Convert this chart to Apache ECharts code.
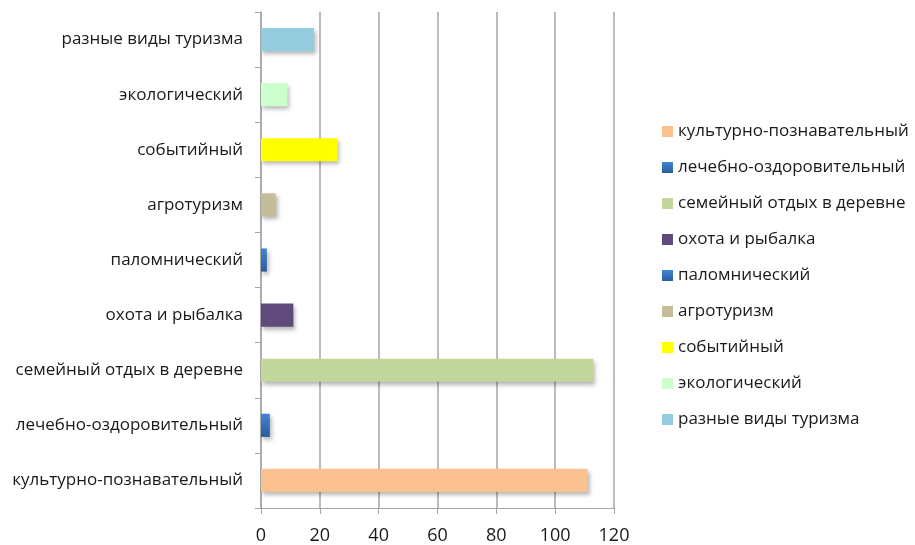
<!DOCTYPE html>
<html>
<head>
<meta charset="utf-8">
<script src="https://cdn.jsdelivr.net/npm/echarts@6/dist/echarts.min.js"></script>
<style>
  html, body { margin: 0; padding: 0; background: #fff; }
</style>
</head>
<body>
<div id="chart" style="width: 915px;height:545px;"></div>
<script>
// категории снизу вверх (как на оси)
var categories = [
  'культурно-познавательный',
  'лечебно-оздоровительный',
  'семейный отдых в деревне',
  'охота и рыбалка',
  'паломнический',
  'агротуризм',
  'событийный',
  'экологический',
  'разные виды туризма'
]
var values = [111, 3, 113, 11, 2, 5, 26, 9, 18]
var xTicks = [0, 20, 40, 60, 80, 100, 120]

var blue = {
  type: 'linear', x: 0, y: 0, x2: 0, y2: 1,
  colorStops: [{ offset: 0, color: '#4285d3' }, { offset: 1, color: '#2b5c9c' }]
}
var colors = ['#fac090', blue, '#c3d69b', '#604a7b', blue, '#c4bd97', '#ffff00', '#ccffcc', '#93cddd']

var font = 'Open Sans'
var chart = echarts.init(document.getElementById('chart'))

// одна серия на категорию, все в одном стеке — чтобы легенда была по категориям
var series = []
for (var i = 0; i < categories.length; i++) {
  var data = []
  for (var j = 0; j < categories.length; j++) {
    data.push(j === i ? values[i] : '-')
  }
  series.push({
    name: categories[i],
    type: 'bar',
    stack: 'all',
    barWidth: '42%',
    data: data,
    itemStyle: {
      color: colors[i],
      shadowBlur: 4,
      shadowOffsetX: 2,
      shadowOffsetY: 3,
      shadowColor: 'rgba(0,0,0,0.28)'
    },
    emphasis: { disabled: true }
  })
}

var option = {
  animation: false,
  grid: { left: 261, right: 301, top: 12, bottom: 36, containLabel: false },
  legend: {
    orient: 'vertical',
    left: 662,
    top: 123,
    padding: 0,
    itemWidth: 11,
    itemHeight: 11,
    itemGap: 19,
    icon: 'rect',
    textStyle: { fontFamily: font, fontSize: 17, color: '#1a1a1a' },
    data: categories
  },
  xAxis: {
    type: 'value',
    min: xTicks[0],
    max: xTicks[xTicks.length - 1],
    interval: 20,
    axisLine: { show: true, lineStyle: { color: '#a6a6a6', width: 1 } },
    axisTick: { show: true, length: 6, lineStyle: { color: '#a6a6a6' } },
    axisLabel: { fontFamily: font, fontSize: 18, color: '#1a1a1a', margin: 19 },
    splitLine: { show: true, lineStyle: { color: '#a6a6a6', width: 1.5 } }
  },
  yAxis: {
    type: 'category',
    data: categories,
    axisLine: { show: true, lineStyle: { color: '#a6a6a6', width: 1.5 } },
    axisTick: { show: true, length: 6, lineStyle: { color: '#a6a6a6' } },
    axisLabel: { fontFamily: font, fontSize: 17, color: '#1a1a1a', margin: 18 }
  },
  series: series
}
chart.setOption(option)
</script>
</body>
</html>
